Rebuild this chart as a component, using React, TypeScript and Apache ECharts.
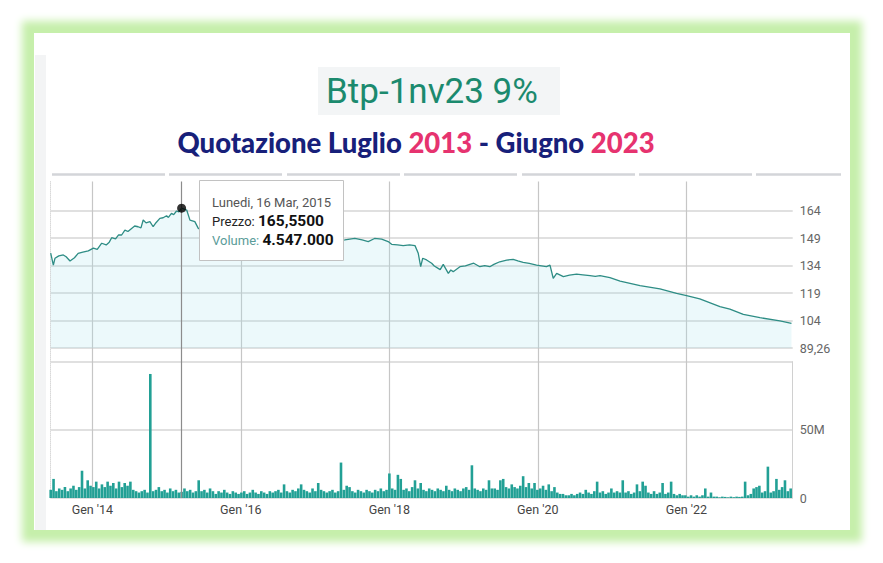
import React, { useEffect, useRef } from 'react';
import * as echarts from 'echarts';

// ---------- texts ----------
const TITLE = 'Btp-1nv23 9%';
const SUBTITLE_PARTS = ['Quotazione Luglio ', '2013', ' - Giugno ', '2023'];

// ---------- x axis ----------
const X_MIN = '2013-06-10';
const X_MAX = '2023-06-08';
const xTickDates = ['2014-01-01', '2016-01-01', '2018-01-01', '2020-01-01', '2022-01-01'];
const xTickLabels = ["Gen '14", "Gen '16", "Gen '18", "Gen '20", "Gen '22"];

// ---------- price axis ----------
const PRICE_MIN = 89.26;
const PRICE_MAX = 179.26;
const PRICE_STEP = 15;

// ---------- volume axis (millions) ----------
const VOL_MAX = 100;
const VOL_STEP = 50;

// ---------- price series ----------
const priceDatesA = [
  '2013-06-10', '2013-06-23', '2013-07-01', '2013-07-20', '2013-08-11', '2013-08-25', '2013-09-13', '2013-10-05', '2013-10-23', '2013-11-15', '2013-12-12',
  '2014-01-06', '2014-01-25', '2014-02-16', '2014-03-10', '2014-03-25', '2014-04-06', '2014-04-25', '2014-05-10', '2014-05-25', '2014-06-10', '2014-06-25',
  '2014-07-13', '2014-07-28', '2014-08-14', '2014-08-28', '2014-09-08', '2014-09-22', '2014-10-11', '2014-10-27', '2014-11-10', '2014-11-29', '2014-12-15',
  '2015-01-01', '2015-01-10', '2015-01-25', '2015-02-05', '2015-02-19', '2015-03-02', '2015-03-16', '2015-04-10', '2015-04-26', '2015-05-20', '2015-06-06',
];
const priceValuesA = [
  141.0, 134.5, 138.2, 139.5, 140.0, 139.0, 136.7, 138.5, 140.9, 141.5, 142.2,
  143.7, 143.0, 146.4, 145.5, 147.0, 149.4, 148.8, 151.0, 150.9, 153.6, 152.8,
  154.5, 155.8, 155.4, 154.8, 159.1, 157.5, 158.2, 155.4, 157.6, 160.0, 160.3,
  161.4, 160.5, 162.7, 162.0, 164.0, 163.5, 165.55, 164.5, 159.0, 158.2, 154.5,
];
const priceDatesB = [
  '2015-08-15', '2015-11-01', '2016-02-01', '2016-05-01', '2016-08-01', '2016-11-01', '2017-02-01', '2017-05-27',
  '2017-07-15', '2017-08-20', '2017-09-19', '2017-10-20', '2017-11-24', '2017-12-26',
  '2018-01-12', '2018-02-10', '2018-03-10', '2018-04-10', '2018-05-07', '2018-05-23', '2018-06-04', '2018-06-14', '2018-07-03', '2018-07-28',
  '2018-08-10', '2018-08-29', '2018-09-08', '2018-09-23', '2018-10-18', '2018-10-30', '2018-11-11', '2018-12-14',
];
const priceValuesB = [
  151.0, 149.0, 151.0, 152.0, 153.0, 149.0, 147.0, 148.2,
  149.1, 148.2, 147.3, 149.0, 148.6, 147.3,
  145.8, 145.5, 145.1, 145.5, 145.1, 140.9, 133.6, 138.2, 137.3, 135.5,
  134.0, 132.7, 132.0, 134.9, 130.0, 131.8, 130.9, 133.6,
];
const priceDatesC = [
  '2019-01-10', '2019-02-01', '2019-02-20', '2019-03-22', '2019-04-15', '2019-05-10', '2019-05-30', '2019-06-28', '2019-08-01', '2019-09-02', '2019-09-25', '2019-10-21', '2019-11-20', '2019-12-26',
  '2020-02-13', '2020-03-01', '2020-03-17', '2020-04-03', '2020-05-06', '2020-06-05', '2020-07-10', '2020-08-10', '2020-09-14', '2020-10-10', '2020-11-02', '2020-12-21',
  '2021-02-09', '2021-05-18', '2021-08-24', '2021-11-14', '2022-01-02', '2022-03-08', '2022-06-15', '2022-08-03', '2022-10-08', '2022-12-29', '2023-04-06', '2023-06-02',
];
const priceValuesC = [
  134.0, 134.9, 135.5, 133.6, 134.2, 133.6, 134.9, 136.3, 137.2, 137.6, 136.8, 136.0, 135.4, 134.5,
  133.6, 134.5, 127.3, 130.0, 128.2, 129.0, 129.5, 129.2, 128.7, 128.3, 128.7, 127.6,
  125.8, 123.3, 121.5, 119.1, 117.8, 116.0, 111.8, 110.5, 107.6, 105.8, 104.0, 102.7,
];

// ---------- volume series (millions, one sample every 14 days from VOL_START) ----------
const VOL_START = '2013-06-10';
const VOL_STEP_DAYS = 14;
const vol2013 = [6, 14, 5, 7, 6, 8, 5, 7, 9, 6, 8, 20, 7, 13, 9, 8, 12, 7, 10, 8, 12, 9, 11, 7, 12, 8];
const vol2014 = [11, 9, 12, 6, 5, 4, 5, 6, 4, 91, 5, 6, 8, 5, 6, 4, 7, 5, 6, 4, 4.547, 7, 5, 6, 4, 5];
const vol2015 = [13, 5, 6, 4, 7, 5, 3, 5, 4, 6, 4, 3, 5, 4, 3, 4, 5, 3, 4, 6, 4, 3, 5, 4, 3, 5];
const vol2016 = [4, 5, 6, 4, 10, 5, 4, 6, 5, 7, 10, 6, 5, 4, 7, 5, 11, 6, 5, 4, 5, 6, 4, 5, 26, 6];
const vol2017 = [9, 8, 5, 4, 6, 5, 4, 6, 5, 4, 6, 5, 7, 5, 6, 18, 7, 6, 17, 14, 6, 7, 5, 8, 13, 7];
const vol2018 = [11, 6, 5, 7, 6, 5, 7, 6, 5, 9, 6, 5, 7, 6, 5, 7, 8, 6, 24, 7, 6, 5, 7, 6, 13, 7];
const vol2019 = [7, 6, 13, 14, 8, 7, 10, 8, 7, 9, 16, 8, 11, 7, 11, 6, 7, 9, 6, 10, 5, 8, 4, 3, 3, 2];
const vol2020 = [2, 3, 2, 3, 4, 3, 6, 4, 3, 5, 12, 4, 5, 3, 4, 7, 4, 5, 4, 13, 4, 5, 3, 4, 10, 5];
const vol2021 = [12, 9, 4, 3, 5, 3, 4, 11, 3, 4, 12, 3, 2, 3, 2, 2, 1, 2, 1, 2, 1, 2, 7, 1, 4, 1];
const vol2022 = [1, 0.5, 1, 0.8, 0.5, 1, 0.6, 1, 0.8, 1, 12, 2, 3, 7, 8, 9, 4, 5, 23, 4, 5, 14, 6, 8, 13, 5, 7];

// ---------- highlighted point ----------
const TIP_DATE = '2015-03-16';
const TIP_DATE_LABEL = 'Lunedi, 16 Mar, 2015';
const TIP_PRICE = 165.55;
const TIP_VOLUME = 4547000;

const toT = (d: string) => Date.parse(d + 'T00:00:00Z');
const fmtThousands = (v: number) => String(Math.round(v)).replace(/\B(?=(\d{3})+(?!\d))/g, '.');

export default function App() {
  const ref = useRef<HTMLDivElement>(null);

  useEffect(() => {
    if (!ref.current) return;
    const chart = echarts.init(ref.current, undefined, { renderer: 'svg' });

    const tMin = toT(X_MIN);
    const tMax = toT(X_MAX);
    const xTicks = xTickDates.map(toT);
    const xLabel = (v: number) => {
      const i = xTicks.indexOf(v);
      return i >= 0 ? xTickLabels[i] : '';
    };

    const priceDates = [...priceDatesA, ...priceDatesB, ...priceDatesC];
    const priceValues = [...priceValuesA, ...priceValuesB, ...priceValuesC];
    const priceData = priceDates.map((d, i) => [toT(d), priceValues[i]]);
    const volAll = [
      ...vol2013, ...vol2014, ...vol2015, ...vol2016, ...vol2017,
      ...vol2018, ...vol2019, ...vol2020, ...vol2021, ...vol2022,
    ];
    const v0 = toT(VOL_START);
    const volData = volAll.map((v, i) => [v0 + i * VOL_STEP_DAYS * 86400000, v]);
    const tipT = toT(TIP_DATE);

    const font = 'Roboto, "Noto Sans", sans-serif';
    const left = 50.7;
    const right = 90.3;

    const dashes: any[] = [];
    const dashStarts = [52, 169, 287, 404, 522, 639, 756];
    const dashEnds = [165, 282, 400, 517, 635, 752, 841];
    dashStarts.forEach((s, i) => {
      dashes.push({
        type: 'line',
        shape: { x1: s, y1: 174.5, x2: dashEnds[i], y2: 174.5 },
        style: { stroke: '#d3d5d9', lineWidth: 2.5 },
        z: 1,
      });
    });

    const option: any = {
      animation: false,
      textStyle: { fontFamily: font },
      grid: [
        { left, right, top: 181.5, height: 316.5 },
        { left, right, top: 183, height: 165 },
        { left, right, top: 361.7, height: 136.3 },
      ],
      xAxis: [
        {
          type: 'value', gridIndex: 0, min: tMin, max: tMax,
          axisLine: { show: false },
          axisTick: { show: false, customValues: xTicks },
          axisLabel: { show: false, customValues: xTicks },
          splitLine: { show: true, lineStyle: { color: '#c6c6c6', width: 1.2 } },
        },
        {
          type: 'value', gridIndex: 1, min: tMin, max: tMax,
          axisLine: { show: false }, axisTick: { show: false },
          axisLabel: { show: false }, splitLine: { show: false },
        },
        {
          type: 'value', gridIndex: 2, min: tMin, max: tMax,
          axisLine: { show: false },
          axisTick: { show: false, customValues: xTicks },
          axisLabel: {
            customValues: xTicks, formatter: xLabel,
            color: '#444', fontSize: 12.5, margin: 5, fontFamily: font,
          },
          splitLine: { show: false },
        },
      ],
      yAxis: [
        {
          type: 'value', gridIndex: 0, min: 0, max: 1, position: 'left',
          axisLine: { show: true, lineStyle: { color: '#d9d9d9', type: 'dotted' } },
          axisTick: { show: false }, axisLabel: { show: false }, splitLine: { show: false },
        },
        {
          type: 'value', gridIndex: 1, position: 'right',
          min: PRICE_MIN, max: PRICE_MAX, interval: PRICE_STEP,
          axisLine: { show: false }, axisTick: { show: false },
          axisLabel: {
            color: '#666', fontSize: 12.5, margin: 7, fontFamily: font,
            showMaxLabel: false,
            formatter: (v: number) =>
              Math.abs(v - PRICE_MIN) < 1e-6 ? v.toFixed(2).replace('.', ',') : String(Math.floor(v)),
          },
          splitLine: { show: true, showMaxLine: false, lineStyle: { color: '#d6d6d6', width: 1.6 } },
        },
        {
          type: 'value', gridIndex: 2, position: 'right',
          min: 0, max: VOL_MAX, interval: VOL_STEP,
          axisLine: { show: true, lineStyle: { color: '#d0d0d0', width: 1 } },
          axisTick: { show: false },
          axisLabel: {
            color: '#666', fontSize: 12.5, margin: 7, fontFamily: font,
            showMaxLabel: false,
            formatter: (v: number) => (v === 0 ? '0' : v >= VOL_MAX ? '' : v + 'M'),
          },
          splitLine: { show: true, lineStyle: { color: '#d6d6d6', width: 1.6 } },
        },
      ],
      series: [
        {
          type: 'line', xAxisIndex: 0, yAxisIndex: 0, z: 5,
          data: [[tipT, 0.5]], showSymbol: false, symbol: 'none',
          lineStyle: { opacity: 0 }, silent: true,
          markLine: {
            silent: true, symbol: ['none', 'none'], label: { show: false },
            lineStyle: { color: '#8c8c8c', width: 1.2, type: 'solid' },
            data: [{ xAxis: tipT }],
          },
        },
        {
          type: 'line', xAxisIndex: 1, yAxisIndex: 1, z: 3,
          data: priceData, symbol: 'none', showSymbol: false,
          lineStyle: { color: '#2e8d85', width: 1.3 },
          areaStyle: { color: 'rgba(165,225,235,0.3)' },
        },
        {
          type: 'scatter', xAxisIndex: 1, yAxisIndex: 1, z: 10,
          data: [[tipT, TIP_PRICE]], symbolSize: 9,
          itemStyle: { color: '#000' },
        },
        {
          type: 'bar', xAxisIndex: 2, yAxisIndex: 2, z: 3,
          data: volData, barWidth: 2.6,
          itemStyle: { color: '#22a095' },
        },
      ],
      graphic: [
        {
          type: 'rect', z: 1,
          shape: { x: 35, y: 55, width: 11, height: 475 },
          style: { fill: '#f3f4f5' },
        },
        {
          type: 'rect', z: 1,
          shape: { x: 318, y: 67, width: 242, height: 48 },
          style: { fill: '#f3f5f6' },
        },
        {
          type: 'text', z: 2, x: 432, y: 91,
          style: {
            text: TITLE, fill: '#1b8a6e', fontSize: 35, fontWeight: 'normal', fontFamily: font,
            align: 'center', verticalAlign: 'middle',
          },
        },
        {
          type: 'text', z: 2, x: 416, y: 142,
          style: {
            text: `{n|${SUBTITLE_PARTS[0]}}{p|${SUBTITLE_PARTS[1]}}{n|${SUBTITLE_PARTS[2]}}{p|${SUBTITLE_PARTS[3]}}`,
            align: 'center', verticalAlign: 'middle',
            rich: {
              n: { fill: '#17207a', fontSize: 27.5, fontWeight: 900, fontFamily: 'Lato, sans-serif' },
              p: { fill: '#e6336f', fontSize: 27.5, fontWeight: 900, fontFamily: 'Lato, sans-serif' },
            },
          },
        },
        ...dashes,
        {
          type: 'rect', z: 100,
          shape: { x: 199.5, y: 180.5, width: 144, height: 80 },
          style: { fill: '#ffffff', stroke: '#c2c2c2', lineWidth: 1 },
        },
        {
          type: 'text', z: 101, x: 212, y: 202,
          style: {
            text: TIP_DATE_LABEL, fill: '#555', fontSize: 13, fontFamily: font,
            align: 'left', verticalAlign: 'middle',
          },
        },
        {
          type: 'text', z: 101, x: 212, y: 221,
          style: {
            text: `{a|Prezzo: }{b|${TIP_PRICE.toFixed(4).replace('.', ',')}}`,
            align: 'left', verticalAlign: 'middle',
            rich: {
              a: { fill: '#222', fontSize: 13, fontFamily: font },
              b: { fill: '#111', fontSize: 15.5, fontWeight: 'bold', fontFamily: font },
            },
          },
        },
        {
          type: 'text', z: 101, x: 212, y: 240,
          style: {
            text: `{a|Volume: }{b|${fmtThousands(TIP_VOLUME)}}`,
            align: 'left', verticalAlign: 'middle',
            rich: {
              a: { fill: '#5a9c99', fontSize: 13, fontFamily: font },
              b: { fill: '#111', fontSize: 15.5, fontWeight: 'bold', fontFamily: font },
            },
          },
        },
      ],
    };

    chart.setOption(option);
    return () => chart.dispose();
  }, []);

  return (
    <div style={{ position: 'absolute', left: 0, top: 0, width: 883, height: 563, background: '#ffffff', overflow: 'hidden' }}>
      <div
        style={{
          position: 'absolute', left: 34, top: 33, width: 816, height: 497,
          background: '#ffffff',
          boxShadow: '0 0 8px 12px #c6efab',
        }}
      />
      <div ref={ref} style={{ position: 'absolute', left: 0, top: 0, width: 883, height: 563 }} />
    </div>
  );
}
